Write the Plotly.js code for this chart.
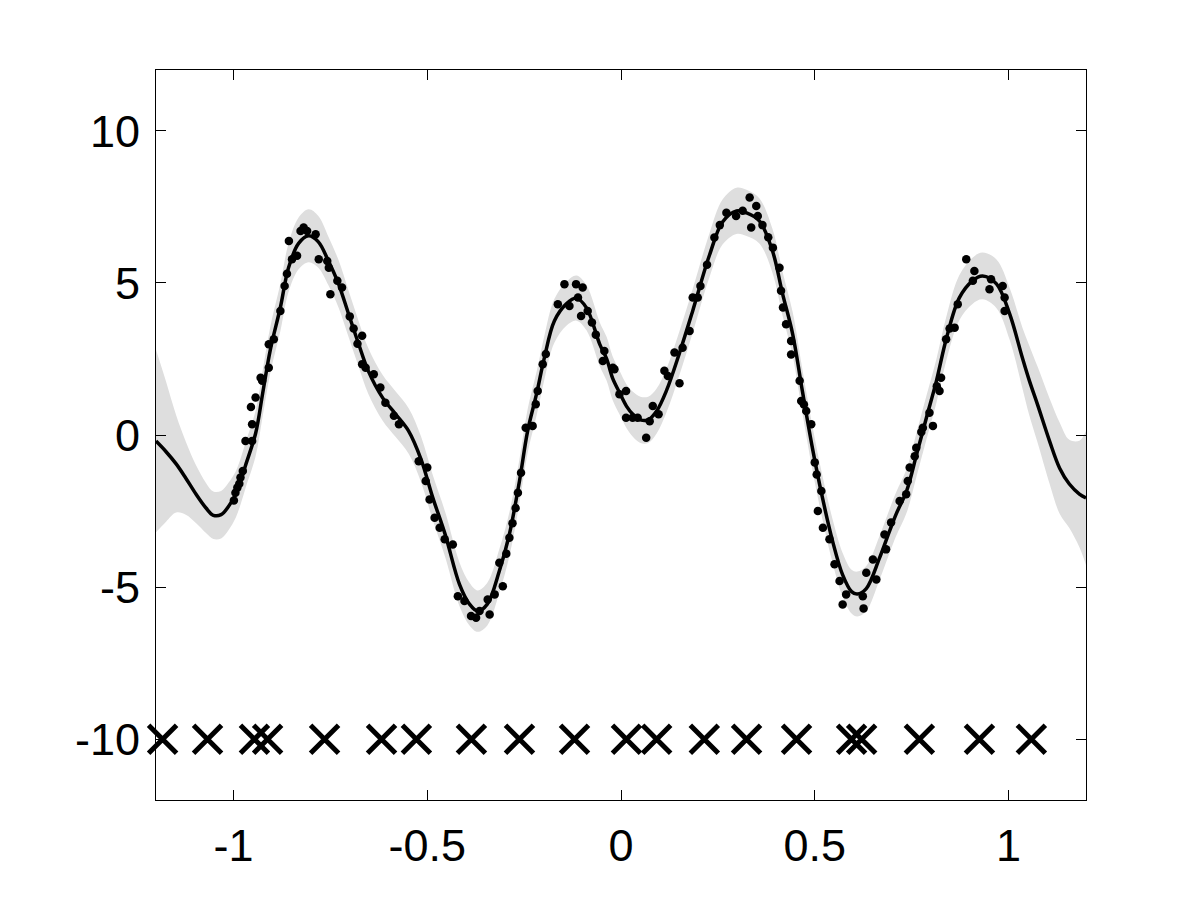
<!DOCTYPE html>
<html>
<head>
<meta charset="utf-8">
<script src="https://cdn.plot.ly/plotly-3.0.1.min.js"></script>
<style>html,body{margin:0;padding:0;background:#fff;}#chart{width:1200px;height:900px;}</style>
</head>
<body>
<div id="chart"></div>
<script>
// Predictive mean
const meanX = [-1.200,-1.174,-1.148,-1.123,-1.097,-1.071,-1.052,-1.032,-1.013,-0.994,-0.981,-0.969,-0.943,-0.925,-0.905,-0.879,-0.858,-0.832,-0.806,-0.781,-0.755,-0.729,-0.703,-0.677,-0.652,-0.615,-0.582,-0.548,-0.516,-0.486,-0.453,-0.417,-0.391,-0.370,-0.345,-0.314,-0.288,-0.262,-0.241,-0.218,-0.198,-0.172,-0.141,-0.115,-0.089,-0.055,-0.037,-0.022,-0.004,0.014,0.030,0.050,0.070,0.092,0.117,0.151,0.185,0.228,0.262,0.298,0.324,0.357,0.391,0.417,0.443,0.468,0.494,0.520,0.546,0.572,0.595,0.610,0.633,0.667,0.693,0.710,0.737,0.763,0.788,0.814,0.840,0.873,0.907,0.933,0.969,1.003,1.036,1.054,1.075,1.106,1.132,1.157,1.183,1.200];
const meanY = [-0.2,-0.55,-0.95,-1.42,-1.94,-2.40,-2.64,-2.62,-2.35,-1.95,-1.5,-1.0,0.05,1.35,2.8,4.2,5.5,6.3,6.55,6.35,5.72,4.97,3.98,2.99,2.1,1.22,0.69,0.13,-0.8,-2.05,-3.3,-4.9,-5.56,-5.79,-5.56,-4.47,-3.26,-1.51,0.13,1.35,2.53,3.75,4.31,4.5,4.18,2.99,2.5,1.88,1.4,0.95,0.69,0.5,0.5,0.79,1.45,2.7,4.08,5.9,7.0,7.37,7.30,7.04,6.05,4.64,3.32,1.45,-0.43,-2.07,-3.49,-4.6,-5.15,-5.23,-5.05,-4.05,-3.16,-2.6,-1.84,-0.63,0.56,1.78,3.19,4.51,5.07,5.23,4.97,3.98,2.53,1.78,1.0,-0.2,-1.09,-1.61,-1.94,-2.07];
// Half width of the grey band (2 sd), same x positions
const bandHalf = [3.0,2.3,1.6,1.2,0.95,0.82,0.78,0.78,0.78,0.76,0.75,0.75,0.75,0.75,0.76,0.78,0.8,0.85,0.87,0.85,0.8,0.78,0.76,0.75,0.75,0.75,0.75,0.75,0.75,0.74,0.74,0.72,0.7,0.68,0.7,0.72,0.72,0.72,0.72,0.72,0.72,0.72,0.72,0.74,0.74,0.72,0.72,0.72,0.72,0.72,0.74,0.76,0.76,0.74,0.72,0.72,0.72,0.72,0.74,0.76,0.76,0.74,0.72,0.72,0.72,0.72,0.72,0.72,0.72,0.72,0.72,0.74,0.74,0.72,0.72,0.72,0.72,0.72,0.72,0.72,0.72,0.74,0.76,0.77,0.8,0.85,1.0,1.15,1.25,1.4,1.5,1.45,1.75,2.2];
// Noisy observations
const obsX = [-0.999,-0.995,-0.990,-0.985,-0.982,-0.976,-0.969,-0.952,-0.952,-0.955,-0.943,-0.930,-0.926,-0.909,-0.909,-0.896,-0.879,-0.868,-0.862,-0.857,-0.849,-0.836,-0.827,-0.819,-0.810,-0.788,-0.780,-0.758,-0.754,-0.732,-0.750,-0.720,-0.700,-0.690,-0.680,-0.668,-0.668,-0.659,-0.638,-0.621,-0.608,-0.586,-0.573,-0.522,-0.500,-0.504,-0.494,-0.481,-0.468,-0.455,-0.434,-0.421,-0.404,-0.387,-0.374,-0.365,-0.344,-0.339,-0.326,-0.305,-0.314,-0.296,-0.288,-0.280,-0.272,-0.266,-0.258,-0.246,-0.228,-0.220,-0.215,-0.202,-0.194,-0.163,-0.146,-0.133,-0.116,-0.111,-0.099,-0.103,-0.086,-0.075,-0.065,-0.047,-0.043,-0.021,-0.017,-0.004,0.013,0.013,0.030,0.043,0.065,0.074,0.082,0.097,0.112,0.121,0.151,0.138,0.159,0.177,0.185,0.198,0.205,0.222,0.241,0.255,0.272,0.297,0.314,0.332,0.349,0.353,0.336,0.365,0.380,0.392,0.409,0.413,0.418,0.426,0.439,0.439,0.461,0.465,0.472,0.478,0.491,0.500,0.505,0.517,0.508,0.521,0.538,0.551,0.564,0.572,0.581,0.624,0.626,0.633,0.650,0.659,0.680,0.684,0.697,0.719,0.736,0.740,0.745,0.758,0.762,0.775,0.779,0.796,0.805,0.815,0.822,0.826,0.839,0.848,0.861,0.869,0.891,0.912,0.908,0.951,0.955,0.985,0.990,0.990];
const obsY = [-2.15,-1.9,-1.73,-1.6,-1.4,-1.18,-0.2,-0.2,0.35,0.92,1.23,1.88,1.78,2.21,2.98,3.15,4.08,4.9,5.3,6.38,5.78,5.89,6.71,6.82,6.71,6.6,5.78,5.72,5.5,5.07,4.63,4.85,3.9,3.5,3.0,3.26,2.33,2.21,2.0,1.56,1.06,0.63,0.35,-0.86,-1.07,-1.51,-2.12,-2.72,-3.05,-3.43,-3.6,-5.3,-5.46,-5.95,-6.01,-5.79,-5.41,-5.9,-5.24,-4.97,-4.2,-3.9,-3.38,-2.9,-2.4,-1.9,-1.24,0.24,0.3,1.01,1.45,2.33,2.66,4.3,4.96,4.24,4.96,4.52,4.85,3.91,4.08,3.7,3.3,2.43,2.76,2.21,2.16,1.34,1.45,0.57,0.57,0.57,-0.09,0.45,0.95,0.68,2.11,1.94,1.7,2.71,2.87,3.42,4.52,4.52,4.9,5.6,6.49,6.9,7.31,7.2,7.37,7.81,7.53,7.2,6.82,6.9,6.5,6.16,5.5,4.74,4.19,3.64,3.09,2.65,1.78,1.12,1.0,0.79,0.35,-0.9,-1.3,-1.84,-2.5,-3.05,-3.43,-4.25,-4.8,-5.57,-5.24,-5.3,-5.7,-4.53,-4.09,-4.75,-3.27,-3.76,-2.88,-2.17,-1.95,-1.51,-1.07,-0.7,-0.42,0.1,0.24,0.73,0.3,1.6,1.45,1.88,3.15,3.5,3.53,4.3,5.78,5.39,5.07,4.79,5.12,4.9,4.52,4.08];
// Inducing inputs (crosses at y = -10)
const inducingX = [-1.183,-1.067,-0.946,-0.912,-0.765,-0.618,-0.528,-0.386,-0.262,-0.120,0.014,0.092,0.215,0.324,0.453,0.595,0.621,0.770,0.925,1.059];
const inducingY = inducingX.map(() => -10);
const xTickVals = [-1, -0.5, 0, 0.5, 1];
const xTickText = ["-1", "-0.5", "0", "0.5", "1"];
const yTickVals = [-10, -5, 0, 5, 10];
const yTickText = ["-10", "-5", "0", "5", "10"];

const upper = meanY.map((m, i) => m + bandHalf[i]);
const lower = meanY.map((m, i) => m - bandHalf[i]);

const traces = [
  {x: meanX, y: lower, mode: 'lines', line: {width: 0, shape: 'spline', color: 'rgba(0,0,0,0)'}, hoverinfo: 'skip', showlegend: false},
  {x: meanX, y: upper, mode: 'lines', fill: 'tonexty', fillcolor: 'rgb(222,222,222)', line: {width: 0, shape: 'spline', color: 'rgba(0,0,0,0)'}, hoverinfo: 'skip', showlegend: false},
  {x: meanX, y: meanY, mode: 'lines', line: {color: '#000', width: 3.5, shape: 'spline'}, showlegend: false},
  {x: obsX, y: obsY, mode: 'markers', marker: {color: '#000', size: 8.5}, showlegend: false},
  {x: inducingX, y: inducingY, mode: 'markers', cliponaxis: false, marker: {symbol: 'x-thin-open', size: 28, color: '#000', line: {color: '#000', width: 5}}, showlegend: false}
];

const axisCommon = {
  showgrid: false, zeroline: false, showline: true, linecolor: '#000', linewidth: 1,
  mirror: 'ticks', ticks: 'inside', ticklen: 10, tickwidth: 1, tickcolor: '#000',
  tickfont: {family: 'Liberation Sans, Arial, sans-serif', size: 45, color: '#000'}
};

const layout = {
  width: 1200, height: 900,
  paper_bgcolor: '#fff', plot_bgcolor: '#fff',
  margin: {l: 156, r: 114, t: 70, b: 100},
  showlegend: false,
  xaxis: Object.assign({}, axisCommon, {range: [-1.2, 1.2], tickvals: xTickVals, ticktext: xTickText, ticklabelstandoff: 6}),
  yaxis: Object.assign({}, axisCommon, {range: [-12, 12], tickvals: yTickVals, ticktext: yTickText, ticklabelstandoff: 6})
};

Plotly.newPlot('chart', traces, layout, {staticPlot: true, displayModeBar: false});
</script>
</body>
</html>
